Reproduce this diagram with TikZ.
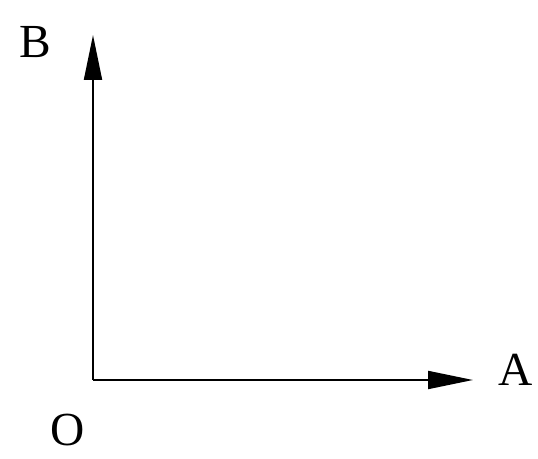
\documentclass[tikz,border=0pt]{standalone}
\usepackage{fontspec}
\setmainfont{Liberation Serif}
\usetikzlibrary{arrows.meta}

\begin{document}
\begin{tikzpicture}[
    axis/.style={line width=1.1pt, -{Triangle[length=0.9cm, width=0.36cm]}},
    lab/.style={font=\fontsize{27}{30}\selectfont, inner sep=0pt}
  ]
    \useasboundingbox (0,0) rectangle (10.76,9.18);
    \coordinate (o) at (1.86,1.58);
    \coordinate (atip) at (9.46,1.58);
    \coordinate (btip) at (1.86,8.48);
    \node[lab] (O) at (1.36,0.58) {O};
    \node[lab] (A) at (10.32,1.78) {A};
    \node[lab] (B) at (0.70,8.34) {B};

    \draw[axis] (o) -- (atip);
    \draw[axis] (o) -- (btip);
  \end{tikzpicture}
\end{document}
